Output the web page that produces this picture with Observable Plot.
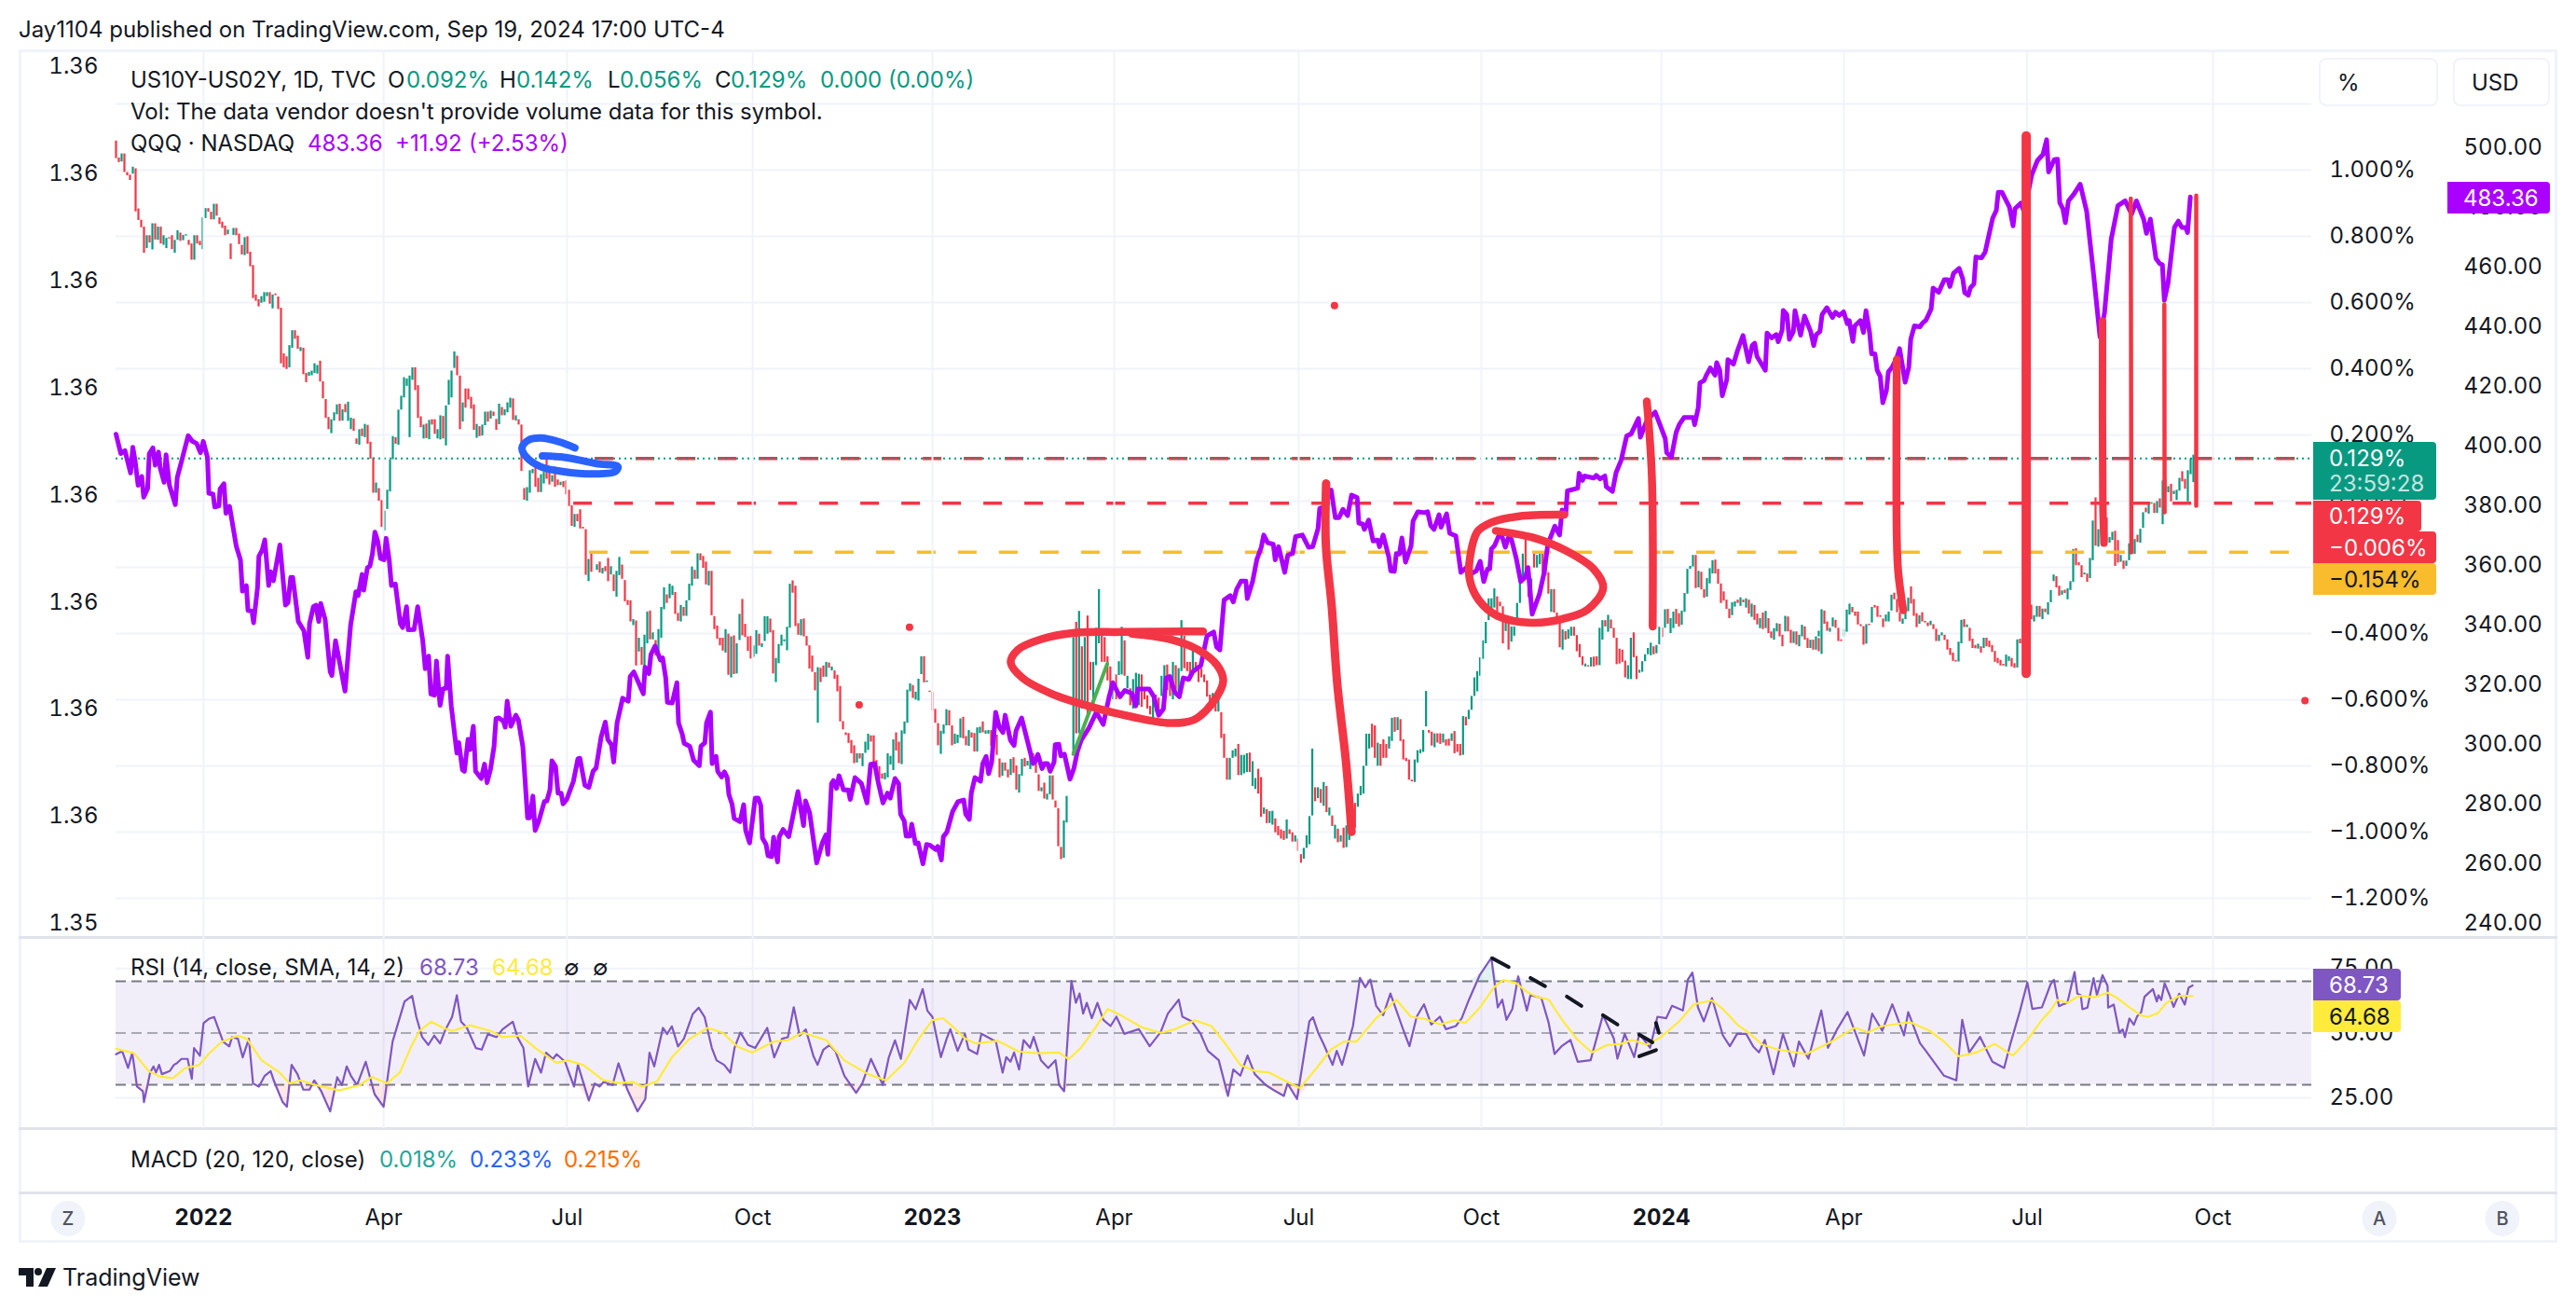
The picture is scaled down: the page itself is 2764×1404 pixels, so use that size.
<!DOCTYPE html>
<html><head><meta charset="utf-8">
<script src="https://cdn.jsdelivr.net/npm/d3@7"></script>
<script src="https://cdn.jsdelivr.net/npm/@observablehq/plot@0.6"></script>
<style>
html,body{margin:0;padding:0;background:#fff}
#page{position:relative;width:2764px;height:1404px;overflow:hidden;font-family:Inter,sans-serif;color:#131722;font-size:24px;background:#fff}
.t{position:absolute;white-space:nowrap;line-height:1;transform:translateY(-50%)}
.box{position:absolute;box-sizing:border-box}
.circ{position:absolute;width:37px;height:38px;border-radius:50%;background:#f0f3fa;color:#50535e;font-size:20px;font-weight:500;display:flex;align-items:center;justify-content:center;transform:translate(-50%,-50%)}
</style></head><body><div id="page"></div>
<script>
// ---------- US10Y-US02Y daily candles: open,close pairs in thousandths of a percent ----------
const spreadA=[1088,1035,1037,1023,1025,1049,1049,993,993,983,985,969,988,1009,1004,874,883,848,849,826,828,749,763,802,802,780,759,838,838,789,788,828,828,777,773,802,763,794,796,792,802,760,749,788,788,817,810,785,787,803,801,805,788,773,777,728,728,802,802,777,785,772,760,856,854,884,884,873,873,850,850,897,897,861,856,836,843,824,831,802,805,819,777,730,803,824,824,802,807,775,773,744,742,796,799,746,752,708,712,612,623,604,609,587,598,618,601,630,618,630,630,595,581,623,626,621,617,579,583,415,445,403,436,398,403,470,462,515,515,489,499,459,452,464,462,382,386,358,377,389,379,393,386,415,384,410,423,360,361,309,307,250,253,216,204,246,242,267,261,291,293,241,242,276,292,267,241,299,216,251,248,211,188,172,169,216,218,195,192,232,229,172,178,127,131,24,24,55,38,0,2,-79,-90,-30,-25,33,28,124,125,195,192,172,169,275,275,317,312,373,347,369,192,378,365,403,403,334,349,250,255,222,188,230,233,189,186,244,246,230,246,202,188,216,185,258,256,188,167,288,290,365,312,393,401,451,438,379,378,216,239,297,339,281,339,306,314,278,291,214,190,232,225,195,197,230,228,269,269,239,248,272,269,256,247,214,231,293,283,258,258,276,267,297,281,311,309,244,242,258,246,230,230,90,38,3,0,41,24,92,83,96,100,42,69,26,26,80,52,87,127,66,87,49,57,77,103,42,64,47,47,57,59,41,61,19,33,-16,-14,-76,-79,-40,-40,-62,-26,-84,-79,-84,-86,-224,-243,-176,-159,-215];
const spreadB=[-209,-192,-184,-217,-220,-203,-198,-213,-173,-243,-223,-198,-223,-273,-290,-212,-225,-170,-193,-236,-240,-304,-300,-315,-301,-365,-376,-358,-362,-498,-456,-414,-442,-496,-515,-405,-431,-335,-332,-419,-419,-398,-421,-468,-468,-388,-414,-321,-328,-262,-283,-309,-295,-251,-285,-257,-276,-342,-339,-363,-365,-315,-321,-348,-348,-301,-301,-251,-257,-199,-209,-236,-236,-159,-159,-180,-167,-203,-184,-253,-256,-212,-212,-346,-349,-388,-377,-417,-414,-437,-414,-453,-459,-388,-402,-526,-534,-410,-407,-524,-522,-431,-421,-342,-297,-407,-372,-412,-410,-454,-409,-477,-472,-437,-463,-391,-402,-438,-442,-431,-424,-349,-402,-349,-356,-398,-391,-522,-548,-475,-491,-433,-438,-405,-425,-419,-452,-381,-384,-251,-241,-278,-257,-379,-370,-405,-407,-358,-356,-410,-409,-438,-437,-507,-468,-517,-518,-573,-671,-503,-505,-548,-498,-532,-532,-487,-489,-505,-513,-501,-513,-538,-526,-576,-560,-667,-666,-691,-700,-708,-702,-732,-723,-763,-739,-793,-791,-763,-763,-779,-802,-763,-762,-728,-753,-704,-709,-728,-709,-791,-784,-816,-802,-840,-824,-840,-842,-822,-836,-763,-797,-771,-814,-721,-700,-755,-728,-793,-796,-694,-704,-667,-671,-571,-576,-552,-557,-596,-601,-577,-604,-538,-524,-470,-470,-549,-548,-543,-574,-578,-578,-634,-629,-671,-672,-739,-765,-695,-704,-676,-679,-630,-633,-679,-679,-739,-735,-704,-732,-707,-716,-658,-653,-718,-711,-739,-741,-693,-700,-716,-702,-758,-758,-685,-702,-683,-667,-700,-704,-694,-704,-693,-693,-741,-721,-693,-707,-768,-779,-836,-831,-791,-791,-816,-812,-836,-829,-780,-775,-822,-800,-873,-882,-826,-831,-780,-777,-803,-800,-786,-811,-772,-763,-788,-768,-822,-827,-877,-878,-866,-852,-900,-903,-885,-887,-830,-830,-903,-906,-927,-929,-1044,-1046,-1083,-1079,-966,-972,-892];
const spreadC=[-768,-412,-366,-703,-703,-333,-440,-628,-628,-412,-347,-656,-487,-572,-628,-487,-497,-384,-431,-267,-408,-487,-412,-487,-470,-543,-501,-572,-600,-543,-525,-600,-527,-485,-525,-381,-422,-529,-567,-529,-567,-618,-628,-539,-590,-520,-618,-523,-525,-623,-567,-600,-588,-628,-620,-646,-660,-600,-586,-637,-595,-646,-590,-529,-600,-497,-495,-572,-529,-590,-600,-487,-497,-581,-576,-506,-515,-361,-408,-506,-487,-515,-487,-543,-525,-445,-487,-515,-497,-548,-506,-534,-525,-548,-543,-592,-586,-632,-628,-581,-586,-637,-637,-581,-639,-717,-704,-777,-777,-843,-843,-777,-777,-754,-773,-749,-735,-829,-829,-768,-824,-768,-820,-763,-761,-820,-862,-787,-871,-838,-810,-885,-835,-955,-946,-927,-932,-974,-974,-938,-979,-937,-960,-1002,-983,-1011,-993,-1021,-997,-1025,-1021,-963,-993,-1007,-1002,-1030,-1030,-1011,-1021,-1058,-1068,-1094,-1082,-1049,-1049,-1011,-1038,-953,-951,-749,-866,-908,-899,-866,-871,-913,-922,-850,-862,-941,-951,-927,-951,-983,-1021,-979,-991,-1032,-1030,-1011,-988,-1049,-1047,-981,-1025,-927,-1007,-907,-913,-988,-925,-885,-890,-862,-885,-801,-801,-704,-749,-704,-674,-745,-679,-777,-801,-731,-735,-801,-721,-777,-735,-777,-749,-712,-726,-656,-654,-698,-693,-654,-660,-726,-721,-782,-777,-787,-782,-843,-843,-848,-850,-782,-791,-754,-763,-751,-759,-693,-682,-575,-693,-701,-698,-740,-745,-703,-703,-731,-703,-735,-731,-704,-721,-740,-719,-740,-726,-703,-696,-763,-735,-759,-735,-770,-768,-651,-653,-679,-660,-632,-632,-590,-590,-534,-576,-515,-529,-473,-478,-422,-431,-366,-361,-295,-347,-295,-323,-265,-289,-342,-305,-319,-319,-431,-394,-356,-366,-450,-426,-380,-408,-380,-361,-309,-309,-230,-235,-160,-113,-230,-197,-291,-291,-235,-155,-202,-202,-164,-192,-155,-155,-216,-178,-225,-216,-281,-336,-267,-267,-338,-338,-356,-361,-443,-450,-389,-394,-420,-417,-389,-408,-381,-381,-408,-406,-455,-433,-473,-470,-497,-501,-492,-497,-501,-501,-473,-471,-501,-470,-497,-497,-384,-420,-361,-361,-380,-396,-345,-359,-386,-384,-414,-414,-494,-447,-492,-450,-487,-483,-534,-539,-497,-539,-414,-398,-473,-469,-539,-520,-511,-517,-485,-485,-464,-464,-445,-467,-429,-440,-464,-461,-436,-434,-381,-384,-412,-384,-328];
const spreadD=[-327,-372,-400,-355,-385,-335,-327,-372,-340,-380,-375,-332,-336,-279,-281,-206,-206,-197,-199,-164,-164,-264,-262,-212,-215,-268,-267,-293,-290,-234,-250,-204,-220,-180,-178,-220,-206,-251,-250,-309,-274,-302,-299,-327,-326,-355,-346,-307,-320,-304,-299,-309,-318,-292,-299,-307,-323,-295,-299,-341,-351,-311,-315,-360,-341,-374,-385,-355,-338,-388,-385,-333,-355,-400,-395,-415,-420,-385,-395,-370,-372,-410,-405,-440,-395,-348,-350,-395,-390,-430,-430,-395,-395,-435,-440,-405,-410,-375,-380,-420,-415,-445,-445,-420,-420,-450,-450,-410,-415,-455];
const spreadE=[-410,-393,-463,-328,-332,-372,-365,-393,-396,-384,-380,-353,-360,-384,-384,-424,-419,-424,-410,-388,-396,-329,-344,-311,-321,-337,-335,-348,-335,-374,-373,-379,-379,-435,-432,-373,-372,-376,-368,-321,-315,-323,-318,-351,-346,-351,-356,-382,-365,-344,-365,-335,-332,-284,-278,-298,-297,-337,-337,-365,-372,-356,-358,-331,-334,-293,-259,-311,-297,-348,-340,-382,-372,-346,-337,-365,-363,-368,-368,-379,-376,-363,-373,-388,-387,-424,-424,-405,-407,-398,-405,-421,-419,-450,-445,-466,-459,-484,-481,-486,-486,-426,-431,-360,-358,-382,-382,-374,-384,-424,-417,-445,-436,-446,-447,-432,-440,-459,-445,-414,-414,-440,-423,-442,-436,-457,-454,-487,-475,-491,-481,-498,-493,-498,-501,-465,-484,-470,-475,-501,-491,-505,-504,-419,-417,-431,-431,-358,-344,-295,-318,-281,-314,-358,-365,-346,-351,-318,-318,-351,-358,-326,-326,-337,-344,-307,-307,-270,-243,-223,-228,-262,-257,-287,-284,-271,-269,-279,-298,-265,-270,-243,-245,-146,-144,-195,-186,-195,-195,-231,-223,-217,-220,-245,-234,-173,-180,-60,10,-136,-139,-86,-89,-23,-51,-131,-51,-126,-127,-110,-119,-94,-91,-197,-119,-187,-185,-164,-181,-206,-197,-181,-180,-129,-133,-157,-161,-116,-103,-125,-127,-85,-82,-35,-21,-35,-39,-9,-9,-5,-7,-37,-37,-1,7,-21,-71,61,66,28,25,44,51,-2,20,30,2,33,30,69,89,58,66,36,-2,92,80,128,56,139];

// ---------- QQQ close: bar,USD pairs ----------
const qqqPath=[0,404,1.7,397.5,3.2,398.5,5.2,391,6,399.6,6.8,395.2,7.9,386.9,9.2,389.8,9.9,382.9,11.3,385.8,11.9,397.5,13.2,399.4,14,393.6,15.2,398,15.8,392.6,17.2,387.9,17.9,397.1,19.1,386.9,21.2,380.4,21.9,389.5,23.2,394.1,25.8,403.5,27.2,401.7,28.8,400.9,30.2,397.8,31.2,401.6,32.7,396.2,33.2,384.2,34.7,383.9,35.3,379.6,36.8,380,37.2,385.6,38.6,387.4,39.3,377.5,40.6,379.8,43,366.5,44.5,361.9,45.2,351.4,46.6,353.2,47.2,344.9,48.6,344.7,49.2,340.8,50.6,352.5,51.1,363.1,52.3,365.2,53.2,368.6,54.6,353.3,55.3,357.9,56.3,354.9,58.6,366.9,60.6,346.7,61.5,347.5,62.5,356,63.2,356,65.2,341.2,67.2,338.1,68.6,329.2,69.2,340.5,70.6,346.2,71.5,346.7,72.5,341.2,73.2,347.3,74.8,341.9,76.6,324.4,77.2,323.1,78.5,334.8,81.9,317.9,83.9,340,85.8,351.2,86.6,349.9,88,357,88.6,351.7,89.9,359.2,90.8,359.8,91.7,363.9,92.6,371.2,93.6,368.1,94.6,362.4,95.9,361.9,96.6,369.1,97.7,361.9,98.5,353.3,99.9,353.8,101.7,340.5,102.5,339.2,103.9,346.2,104.5,338.4,106.6,338.5,107.9,346.2,109.7,334.8,110.6,325.4,111.8,329.6,112.6,316.9,113.9,316.5,114.6,328,115.9,313.1,116.9,318.6,118.1,318.9,118.6,329.6,119.9,312.9,121.9,297.1,122.6,300.6,123.9,291.5,124.6,291,125.9,301.7,126.6,298.3,127.8,306.1,128.6,291,130.6,288.6,131.8,293.4,132.7,287.2,133.9,291.5,135.2,299.3,135.9,308.7,136.9,308.9,138.6,307.7,139.2,305.8,139.9,314.5,141.2,306.1,143,309.8,143.9,308.2,145.5,299.3,147.2,275.4,148,275.4,149.1,282.7,149.9,271.2,151.2,274.3,153.2,280.9,154.1,281.1,155.2,284.8,155.9,294.5,157.2,292.6,158.1,283.7,159.2,283.7,159.9,280.1,161.2,281.6,163.6,287.7,165.2,295.2,165.9,295.4,167.7,286.3,169.1,285.6,170.6,291,171.7,292.1,173.5,302.5,175,307.5,175.9,301.6,177.2,299.9,178,294.1,179.2,307.2,181.2,315.5,183.2,314.5,183.9,322.8,185.2,324.3,188.6,317,189.2,325.9,190.6,323.8,191.3,330.1,192.8,333,194.7,328.3,195.5,329,196.6,322.3,197.2,314.1,198.9,313.9,200.6,320.7,201.2,307.2,202.5,303.5,203.2,300.4,205.2,299.4,206.6,294.7,208.6,292.9,209.2,299.4,210.6,300.6,211.2,307.2,212.6,310.8,213.2,293.6,214.6,296,215.2,291,216.6,289.1,217.6,290.8,218.6,288.9,219.2,283.2,220.3,280.1,221.1,275.2,223.2,274.1,224.5,279.8,225.2,271.2,226.6,267,228.6,282,229.7,282,230.6,279.6,231.2,268.6,232.5,266.5,233.2,262.7,234.5,262.4,235.2,268.9,236.6,260.6,237.2,269.1,238.6,271.5,240.6,269.1,243.9,284.2,245.9,272.8,246.6,281.1,248.1,277,250.6,260.3,252.6,267,253.9,269.7,254.6,263.2,255.9,286.9,256.6,287.9,257.7,285.3,258.6,289.5,260.2,284.8,261.9,284.8,262.6,281.6,264.3,288.9,266.6,286.9,268.6,280.4,269.9,293.4,271.3,293.6,272.6,287.4,274.3,280.4,275.9,283.7,276.9,282,278.6,288.6,279.9,286.9,280.6,276.6,281.9,274.4,282.6,269.3,283.9,269.3,284.6,273.3,285.9,266.8,286.9,267,288.6,260,289.9,266.5,291.2,266.2,293.2,264.8,293.9,265.8,295.2,261.3,295.9,269.1,297.2,270.7,299.2,277.5,301.1,280.8,303.2,281.4,303.9,276.6,305.2,274.9,305.9,283.7,307.2,288.9,309.2,287.7,310,293.6,311.2,296,312.1,290.2,313.2,294.1,314.6,310.8,315.9,305.8,317.2,304,318,309.8,319.9,301.4,321.2,299.7,321.9,304.6,323.9,308.9,328,293.6,328.6,294.1,329.7,296.7,331.2,291.9,332.1,293.6,333.2,293.6,334.1,291,335.5,294.1,335.9,299.9,337.2,300.1,337.9,296.2,339.2,296.8,341.2,288.4,342.6,292,343.9,297.8,345.2,301.4,348,305.6,350.6,310.8,353.1,306.7,355.2,316,356.5,320.7,359.1,316,360.8,318.1,363.3,317.1,364.7,312.9,365.4,318.6,369.5,318.6,371.2,316,372.9,309.8,374.6,311.9,375.6,322.3,376.9,322.8,378.6,317.6,380.3,316,381.7,322.3,383.7,321.8,385.1,324.4,388,326.5,390.2,336.4,392.6,337.7,393.6,332.7,394.8,331.7,396.3,348.4,398.5,349.9,399.6,347.8,400.8,352,402.4,354.8,404.1,354.8,404.6,348.9,406.5,354.6,408,361.9,409.6,366.1,410.5,370.2,411.9,367.6,413.9,367.1,414.6,361.9,415.8,366.3,418,357.7,419.1,363.5,420.8,364,421.9,369.7,424.3,370.2,426.5,366.1,428,366.3,429.9,372.3,430.5,379.1,431.9,379.6,434.6,385.3,436.1,376,437.4,376,438.8,378.8,440.5,376.7,441.9,383.6,443.9,382.7,444.5,374.2,445.8,373.9,446.5,372.1,448,375.2,449.6,368.2,451.2,368.5,451.9,366.3,453.2,370.2,455.2,362.9,455.9,358.2,457.2,358,457.9,364,459,363.8,459.9,369.2,461.2,361.1,463.2,366.6,463.9,374.9,465.6,378,468,377.7,469.1,378,470.2,373.4,471.4,372.1,473.2,377,473.9,372.8,475.9,377.3,477,370.8,479.2,369.9,481,357.7,483,359.3,484.6,357.2,486.5,358.2,487.9,361.4,489.2,354.6,490.5,358.8,491.3,358.8,491.9,365.5,493,366.6,495.2,371.3,496.9,366.1,498,369.4,499.1,368.7,500.8,362.4,502.4,354.6,504.1,356.2,505,359.3,506.5,343.7,509.1,350.4,510.8,357.7,512.1,367.1,514.6,373.2,516.3,370.2,517.2,378.6,518.5,377,519.1,385,522.8,385.9,523.3,390.9,524.5,388.5,525.2,390,528.5,389.3,529.4,390.2,530.8,389,532.5,390,533,386.4,535.2,384.8,536.5,391.1,538.3,395.2,540.3,403.4,541.9,404.1,544.5,409.3,545.2,403,547.6,408.8,550.5,411.4,554.1,402.5,554.6,397.8,556.3,396.3,558,404.6,559.1,407.2,560.8,409.6,564.1,409.6,564.6,407.2,565.9,412.9,566.5,421.2,568,422,568.8,423.8,570.2,426.2,571.9,423.8,572.5,428,573.6,425.4,574.5,416.9,576.1,422.3,576.5,429,578.5,427.5,579.9,431.9,580.4,433.2,581.9,437.1,583.9,428.3,585.2,433.7,586.1,434.5,586.9,430.1,589.9,425.4,590.5,437.9,592.1,436.3,593.8,437.4,594.5,435,595.9,438.9,596.3,445.5,597.6,444.1,598.5,435.8,599.9,438.4,600.5,445.4,602.5,437.2,603.9,443.6,606.1,438.4,607.2,433.7,608.1,437.4,609.4,438.4,610.2,444.1,611.9,446.4,613.9,443.1,615,444.9,616.3,443.8,617.9,445,619.2,441,619.9,442.1,621.2,435.1,621.9,440.3,623.9,442.1,625,438.1,625.9,445.4,627.2,437.9,627.9,430.9,629.1,430.9,629.9,425.4,631,423.3,631.9,414.5,633.2,418.6,633.9,424.9,635.2,426.4,636.9,429.6,637.9,432.7,639.9,421.4,641.2,426.4,641.9,435.8,643.2,440.3,645.2,440,646.1,441.2,647.4,442.3,649.2,446,649.9,453,651.9,451.6,653.9,455.8,655.2,455.8,655.9,453.5,657.2,457.9,659.2,459.6,660.5,456.1,661.2,451.4,662.5,450.6,663.2,453,664.5,454.4,665.2,463.4,667.2,463.1,668.5,465,671.2,476.4,672.5,479,673.2,485.1,674.5,485.1,677.2,480.1,678.5,473.8,679.2,479.6,681.2,481.4,682.5,478.5,685.2,491,687.2,495.7,689.2,497.8,690.5,502.7,691.2,491.9,693.2,496,694.4,496.2,695.2,481.6,696.3,479.6,697.2,474.9,698.3,482.2,700.2,484.4,702.5,487.8,704.8,478.8,707.2,458.4,709.6,436.6,711.2,444.7,713.6,469.4,716,480.6,718.6,482.2,720.9,477.8,722.6,482.2,725.2,476.1,726.2,471.3,727.6,476.1,729.6,462.9,730.9,461.2,731.9,460.8,732.6,448.9,733.9,454.5,736.2,473.3,737.6,475.4,738.9,473.3,740.2,473.3,740.9,471.6,741.9,483.5];

// ---------- RSI and its SMA: bar,value pairs ----------
const rsiPath=[0,41.8,2.2,43,4.3,36.5,5.8,42.4,7.5,29.3,9.6,27.5,10,23.3,12.2,34.7,13.4,37.1,14.3,34.7,15.4,37.7,16.4,34.1,19.2,35.3,20.7,37.7,21.7,38.3,23.4,40,25.6,40,27.1,32.3,27.9,44.2,30,41.2,31.3,53.8,33.4,55.6,35.1,56.2,38.3,46.6,40.5,44.8,41.5,48.4,43.6,47.8,45.3,40.6,47.5,47.8,49,30.5,51.1,29.3,53.2,33.5,55.3,35.3,56.4,31.7,59.6,23.3,61.1,21.5,62.8,37.7,64.9,34.1,67,28.1,69.2,28.1,70.9,31.7,73.4,27.5,76.6,19.7,79.1,32.9,80.8,29.9,82.5,37.1,84,33.5,86.2,29.9,89.3,38.9,92.5,26.3,95.7,21.5,98.9,46.6,103.2,62.2,105.9,64.4,107.4,56.2,109.5,48.4,111.7,45.4,113.8,49,115.9,46,117.6,50.8,120.2,56.2,121.9,64.6,123.4,54.4,125.5,52,128.7,44.2,130.8,43.6,133,49.6,136.1,48.4,138.2,51.4,141.9,54.4,143.6,48.4,145.7,44.2,147.4,29.3,149.9,40,152,34.7,153.8,42.4,156.3,40,157.6,41.8,160.6,38.9,163.8,29.3,165.2,37.7,169.1,23.9,171.2,30.5,172.9,29.3,174.4,31.1,177.6,29.9,179.7,38.3,182.9,28.1,186.5,19.7,189.3,24.5,190.8,42.4,192.5,37.1,195.6,52,197.1,49.6,198.8,52.6,201,44.8,203.1,47.8,206.3,57.4,208.4,59.8,210.5,56.2,213.1,44.2,214.8,39.4,217.5,37.7,219.7,34.7,221.2,44.2,223.3,50.2,226,45.4,228.6,44.2,232.9,52,235.4,40.6,238.2,47.8,240.3,48.4,242.4,60,244.5,49,246.7,51.4,249.4,41.2,250.9,37.7,253,43.6,255.2,45.4,257.3,43,260.5,33.5,264.7,26.9,266.9,30.5,270,40,274.3,29.9,276.4,40.6,278.6,47.2,280.7,40,283.9,62.8,286,59.2,288.5,67,290.2,58.6,292,56.2,295,40.7,297.1,47.9,298.4,51.5,301,43.1,303.6,49.7,304.9,43.7,308,41.9,309.5,49.7,314.7,46.7,317.1,34.7,318.4,40.7,319.9,38.9,321.2,42.5,323,35.9,324.6,47.3,326.9,44.3,328.2,48.5,330.8,39.5,333.4,36.5,336,39.5,337.3,29.9,339.1,27.5,341.7,70.1,343.3,61.7,344.6,65.3,345.9,57.5,347.2,61.7,349,55.7,351,61.7,353.1,55.1,355.7,52.7,357.8,56.3,360.6,49.7,365.8,51.5,369.7,44.9,373.6,50.3,376.2,57.5,380.1,62.9,381.4,56.3,384.8,54.5,387.9,49.7,390.5,43.1,394.4,39.5,397.7,25.7,399.6,35.9,402.1,33.5,404.7,41.3,407.3,34.1,411.2,29.9,413.8,28.1,417.7,25.7,419,30.5,422.4,24.5,426.8,54.5,428.1,56.1,429.9,50.3,432,45.5,435.1,37.7,436.6,43.1,438.5,37.7,442.4,52.7,444.9,71.3,446.8,67.7,448.6,70.7,450.7,60.5,453.2,56.9,455.8,65.3,460.5,50.9,462.6,44.9,465.2,56.3,467.8,61.1,470.4,53.3,473.5,56.3,475.6,51.5,479.2,52.7,481.3,55.7,483.9,62.9,487.8,72.5,491.9,79.1,494.2,59.9,495.8,62.9,497.3,55.1,499.4,59.3,501.5,71.9,504.6,58.7,505.9,64.7,509.8,63.5,512.4,53.9,514.5,41.9,517,44.9,520.2,47.3,522.8,38.9,527.4,39.5,531.8,56.9,535.7,47.9,537,40.1,539.6,49.7,543,40.7,544.8,49.7,548.7,44.3,551.3,56.3,554.4,55.7,556.5,60.5,560.4,58.7,562.2,70.7,563.8,73.4,565.8,59.9,567.9,54.5,570.8,63.5,574.7,49.1,577.2,44.9,579.8,49.7,583,49.7,585.5,44.9,587.6,42.5,589.7,47.3,592.8,34.1,596.2,49.7,600.1,37.1,601.9,46.7,605.3,40.1,609.9,58.7,612.3,44.3,615.6,51.5,619.3,58.1,625.2,41.3,628.1,57.5,631.7,50.9,635.3,61.1,639.5,49.1,641,58.1,645.2,46.1,647.3,43.1,653.8,33.5,658.2,31.7,660.3,55.1,662.8,42.5,666.7,48.5,671.1,38.9,675.3,36.5,677.6,46.1,681,58.7,683.6,69.5,685.4,59.3,688.8,59.9,691.9,68.8,693.1,70.6,694.9,60.4,696.1,61,697.9,61.6,700.5,73.6,701.5,65.2,702.7,64.6,703.3,59.2,705.1,59.8,707.3,71.2,708.5,64.6,710.5,72.4,712.3,68.2,712.5,59.8,714.5,61,716.5,50.2,717.7,51.4,718.5,48.4,720.1,55.6,721.7,53.2,722.9,56.5,724.3,58,725.5,64,728.5,67,729.9,62.2,730.5,64.6,731.5,62.8,732.7,69.2,734.5,64.6,735.9,60.1,737.9,65.2,739.9,61,741.3,67.6,742.7,68.4];
const rsiSmaPath=[0,43.9,6.4,42.2,11.7,35.3,15.6,33.2,20.3,32.6,24.9,36.5,29.8,37.7,33,41.8,37.7,46.6,43.6,49,46.8,47.8,52.1,39.4,58.5,34.7,62.1,30.5,66,31.7,71.3,29.9,79.8,27.8,87.2,29.9,91.5,33.1,96.8,30.5,101.5,34.7,105.3,44.2,108.5,50.8,112.7,54.4,117,52,120.2,50.8,126.6,53,134,50.8,138.2,48.4,144.6,49,150,44.2,157.4,38.5,161.6,39.4,167,37.7,174.4,31.7,179.7,30.7,185,31.1,188.2,29.3,193.5,31.3,198.8,40.6,205.2,47.8,211.6,52,216.9,50.2,222.2,44.8,227.5,42.4,235,46.6,240.3,47.2,245.6,50.2,254.1,47.2,260.5,39.4,269,34.1,275.4,31.7,281.8,38.3,287.1,47.8,292,55,295.8,55.7,299.7,52.1,303.6,47.9,307.5,45.9,315.2,47,323,42.8,329.5,42.2,337.3,42.5,340.7,39.9,345.1,44.3,350.3,52.1,354.7,59.3,359.3,56.9,367.1,52.1,373.6,50.1,378.8,51.5,385.8,54.9,391.8,52.7,397,45.5,402.1,37.7,407.3,35.3,412.5,34.7,419,31.1,423.4,28.7,429.4,36.5,434.6,43.7,439.2,46.7,443.7,46.7,450.1,55.1,457.9,62.9,463.1,56.3,468.3,55.4,473.5,53.3,478.7,54.9,482.6,53.9,487.8,59.9,492.9,67.7,496.1,70.5,500.7,69.3,504.6,65.9,508.5,63.9,512.4,62.9,517.6,54.5,522.8,47.3,527.9,42.5,533.1,45.3,538.3,45.8,542.2,47.3,547.4,45.5,552.6,48.5,559.1,54.5,564.3,61.1,570.8,62.6,574.7,59.3,579.8,53.3,583.7,50.3,588.9,45.5,594.1,43.7,604.5,41.9,613.6,46.7,621.9,52.1,626.5,50.3,631.7,52.7,641.6,54.2,648.6,50.9,653.8,46.7,659,41,665.4,42.5,671.9,45.8,678.4,41.3,683.6,47.3,688.8,55.1,691.9,58.6,694.3,62.8,697.9,61.6,702.1,64.4,707.5,63.8,712.3,65.6,715.9,63.4,719.5,60.4,724.3,56.8,726.7,56.2,730.3,57.7,733.3,61.6,738.1,64.4,742.7,64.4];

// ---------- hand-drawn annotations: bar,USD pairs ----------
const redEllipseSpring=[388.8,337.9,359.9,337.7,342.9,337.4,331,335.3,322.5,331.7,320,327.5,324.2,322.3,334.4,317.1,349.7,312.4,363.3,309.3,376.9,307.2,385.4,308.2,392.2,314,396,321.3,393.9,326.5,387.1,331.7,376.9,335.3,363.3,337.1];
const redEllipseAutumn=[518,377,501.9,376.5,491.9,374.4,486.9,371.3,484.3,362.9,484.1,355.6,487.4,348.4,494.1,343.1,506.3,340.8,517.4,342.1,526.3,345.2,531.9,352.5,528.5,358.8,518.5,365,507.4,369.2,493.5,371.6];
const redStrokeJuly=[432.8,387.5,432.7,367.1,434.8,346.3,436.8,320.2,439.9,294.2,441.9,270.7];
const redStrokeDec=[547.5,415,549.3,390,549.6,339.5];
const redStrokeApr=[636.9,429,636.9,370,637.4,358,639.2,345];
const redStrokeJul24=[683.2,504,683.2,323.8];
const redStrokeAug=[710.5,441.9,710.6,381.6,711,367.5];
const redThinA=[720.6,483,720.8,364.4];
const redThinB=[732.6,447.5,732.7,377.8];
const redThinC=[744,484,744,380];
const blueLoop=[164.1,399.4,158.6,401.4,151.9,402.7,147.5,402,145.2,399.4,146.9,396.2,151.9,393.1,159.7,391.5,171.9,390.7,178.6,391.5,179.5,393.1,171.9,394.1,160.8,396.2,152.5,396.7];
const greenStroke=[342.4,296.8,348.9,312.9,354.5,327];
const redDots=[283.8,339.3,265.8,313.3,435.8,447.1,782.9,314.7];
const blackDashes=[[492.2,78.9,498.1,75.5],[505.9,71.3,511.1,68.1],[518.9,64.1,524.1,60.5],[531.8,56.9,537,53.3],[544.8,49.4,549.5,46.4],[550.8,53.9,551.8,50.1],[544.8,41,550.8,43.4]];

// ---------- axes and levels ----------
const timeBars=[31.3,95.7,161.3,227.7,292,357,423,488.3,552.7,618,683.5,750];
const timeLabels=["2022","Apr","Jul","Oct","2023","Apr","Jul","Oct","2024","Apr","Jul","Oct"];
const pctTicks=[1000,800,600,400,200,0,-200,-400,-600,-800,-1000,-1200];
const pctGrid=[1200,...pctTicks];
const usdTicks=[500,480,460,440,420,400,380,360,340,320,300,280,260,240];
const rsiTicks=[75,50,25];
const rsiBands=[70,50,30];
const leftLabels=["1.36","1.36","1.36","1.36","1.36","1.36","1.36","1.36","1.35"];
const levels=[{v:129,from:156.7,color:"#f23645"},{v:-6,from:163.7,color:"#f23645"},{v:-154,from:169.3,color:"#f9bc2c"}];

const RED="#f23645",TEAL="#089981",PURPLE="#aa00ff",GRID="#f0f3fa";
const W=2764,H=1404,R=2480,L=124,BARS=(R-L)/3;
const pairs=f=>d3.range(f.length/2).map(i=>({bar:f[2*i],v:f[2*i+1]}));
const toCandles=(f,start,step=1)=>d3.range(f.length/2).map(j=>({bar:start+j*step,open:f[2*j],close:f[2*j+1]}));
const candles=[...toCandles(spreadA,0),...toCandles(spreadB,172),
  ...toCandles(spreadC,342.4,211.6/(spreadC.length/2-1)),...toCandles(spreadD,555),...toCandles(spreadE,609)];
const up=candles.filter(c=>c.close>=c.open),down=candles.filter(c=>c.close<c.open);
const page=document.getElementById("page");
const layerStyle={position:"absolute",top:"0",left:"0",background:"transparent",overflow:"visible",fontFamily:"Inter,sans-serif",fontSize:"24px",color:"#131722",maxWidth:"none"};
const base={width:W,height:H,marginLeft:L,marginRight:W-R,marginTop:53,marginBottom:H-1210,style:layerStyle};
const xScale={domain:[0,BARS],range:[L,R],axis:null};
const fmtPct=d=>(d<0?"\u2212":"")+Math.abs(d/1000).toFixed(3)+"%";

// frame
function box(x,y,w,h,css){const d=document.createElement("div");d.className="box";d.style.cssText+=`left:${x}px;top:${y}px;width:${w}px;height:${h}px;${css||""}`;page.appendChild(d);return d}
box(20,53,2724,1280,"border:3px solid "+GRID);
box(20,1004,2724,3,"background:#e0e3eb");
box(20,1209,2724,3,"background:#e0e3eb");
box(20,1278,2724,3,"background:#e0e3eb");

// left scale
page.appendChild(Plot.plot({...base,x:xScale,y:{domain:[0,8],range:[71,990],axis:null},marks:[
  Plot.axisY(d3.range(9),{anchor:"left",tickSize:0,tickPadding:19,label:null,tickFormat:i=>leftLabels[i]})]}));

// spread pane
page.appendChild(Plot.plot({...base,marginBottom:H-1005,x:xScale,y:{domain:[1000,-1000],range:[182,892],axis:null},marks:[
  Plot.gridY(pctGrid,{stroke:GRID,strokeOpacity:1,strokeWidth:2}),
  Plot.ruleX(down,{x:"bar",y1:"open",y2:"close",stroke:RED,strokeWidth:2.2}),
  Plot.ruleX(up,{x:"bar",y1:"open",y2:"close",stroke:TEAL,strokeWidth:2.2}),
  ...levels.map(l=>Plot.ruleY([l.v],{x1:l.from,x2:BARS,stroke:l.color,strokeWidth:3.5,strokeDasharray:"20,24"})),
  Plot.ruleY([129],{x1:0,x2:BARS,stroke:TEAL,strokeWidth:2,strokeDasharray:"2,4"}),
  Plot.axisY(pctTicks,{anchor:"right",tickSize:0,tickPadding:19,label:null,tickFormat:fmtPct})]}));

// RSI pane + vertical grid
page.appendChild(Plot.plot({...base,marginTop:53,marginBottom:H-1210,x:xScale,y:{domain:[70,30],range:[1052,1163],axis:null},marks:[
  Plot.gridX(timeBars,{stroke:GRID,strokeOpacity:1,strokeWidth:2}),
  Plot.rect([0],{x1:0,x2:BARS,y1:70,y2:30,fill:"#7e57c2",fillOpacity:0.1}),
  Plot.gridY([75,25],{stroke:GRID,strokeOpacity:1,strokeWidth:2}),
  ...rsiBands.map(b=>Plot.ruleY([b],{x1:0,x2:BARS,stroke:"#787b86",strokeWidth:2,strokeOpacity:b===50?0.6:1,strokeDasharray:"11,6"})),
  Plot.areaY(pairs(rsiPath),{x:"bar",y1:30,y2:d=>Math.min(d.v,30),fill:RED,fillOpacity:0.12}),
  Plot.areaY(pairs(rsiPath),{x:"bar",y1:70,y2:d=>Math.max(d.v,70),fill:TEAL,fillOpacity:0.12}),
  Plot.line(pairs(rsiPath),{x:"bar",y:"v",stroke:"#7e57c2",strokeWidth:2.2}),
  Plot.line(pairs(rsiSmaPath),{x:"bar",y:"v",stroke:"#ffeb3b",strokeWidth:2.2}),
  ...blackDashes.map(s=>Plot.line(pairs(s),{x:"bar",y:"v",stroke:"#131722",strokeWidth:4})),
  Plot.axisY(rsiTicks,{anchor:"right",tickSize:0,tickPadding:19,label:null,tickFormat:d=>d.toFixed(2)})]}));

// QQQ and drawings
const stroke=(f,color,w)=>Plot.line(pairs(f),{x:"bar",y:"v",stroke:color,strokeWidth:w,curve:"catmull-rom",strokeLinecap:"round",strokeLinejoin:"round"});
page.appendChild(Plot.plot({...base,marginBottom:H-1005,x:xScale,y:{domain:[500,240],range:[158,990],axis:null},marks:[
  Plot.line(pairs(qqqPath),{x:"bar",y:"v",stroke:PURPLE,strokeWidth:5,strokeLinejoin:"round"}),
  stroke(greenStroke,"#4caf50",4),
  stroke(blueLoop,"#2962ff",8),
  stroke(redEllipseSpring,RED,8.5),
  stroke(redEllipseAutumn,RED,8.5),
  stroke(redStrokeJuly,RED,9),
  stroke(redStrokeDec,RED,8.5),
  stroke(redStrokeApr,RED,8.5),
  stroke(redStrokeJul24,RED,10),
  stroke(redStrokeAug,RED,8),
  stroke(redThinA,RED,4.5),
  stroke(redThinB,RED,4.5),
  stroke(redThinC,RED,4.5),
  Plot.dot(pairs(redDots),{x:"bar",y:"v",r:4,fill:RED}),
  Plot.axisY(usdTicks,{anchor:"right",tickSize:0,tickPadding:163,label:null,tickFormat:d=>d.toFixed(2)})]}));

// time scale
const timeAxis=(bars,labels,weight)=>Plot.axisX(bars,{anchor:"bottom",tickSize:0,tickPadding:0,label:null,fontWeight:weight,tickFormat:b=>labels[timeBars.indexOf(b)]});
const years=timeBars.filter((b,i)=>/^\d/.test(timeLabels[i])),months=timeBars.filter((b,i)=>!/^\d/.test(timeLabels[i]));
page.appendChild(Plot.plot({...base,marginTop:53,marginBottom:H-1296,x:xScale,y:{domain:[0,1],axis:null},marks:[
  timeAxis(years,timeLabels,700),timeAxis(months,timeLabels,400)]}));

// texts
function t(s,x,y,color,extra){const d=document.createElement("div");d.className="t";d.textContent=s;d.style.left=x+"px";d.style.top=y+"px";if(color)d.style.color=color;if(extra)d.style.cssText+=extra;page.appendChild(d)}
const G=TEAL;
t("Jay1104 published on TradingView.com, Sep 19, 2024 17:00 UTC-4",20,32);
t("US10Y-US02Y, 1D, TVC",140,86);
[["O",416],["H",536],["L",652],["C",767]].forEach(([a,x])=>t(a,x,86));
[["0.092%",436],["0.142%",554],["0.056%",665],["0.129%",784],["0.000 (0.00%)",880]].forEach(([a,x])=>t(a,x,86,G));
t("Vol: The data vendor doesn't provide volume data for this symbol.",140,120,null,"letter-spacing:-0.05px");
t("QQQ \u00b7 NASDAQ",140,154);
[["483.36",330],["+11.92",424],["(+2.53%)",503]].forEach(([a,x])=>t(a,x,154,PURPLE));
t("RSI (14, close, SMA, 14, 2)",140,1038);
t("68.73",450,1038,"#7e57c2");t("64.68",528,1038,"#ffeb3b");t("\u2205",605,1038);t("\u2205",636,1038);
t("MACD (20, 120, close)",140,1244);
t("0.018%",407,1244,"#26a69a");t("0.233%",504,1244,"#2962ff");t("0.215%",605,1244,"#ff6d00");

// price tags
function tag(x,y,w,h,bg,fg,html){const d=box(x,y,w,h,`background:${bg};color:${fg};border-radius:0 4px 4px 0;padding-left:17px;font-size:24px;display:flex;flex-direction:column;justify-content:center;line-height:27px`);d.innerHTML=html}
tag(2482,474,132,62,TEAL,"#fff",'<div>0.129%</div><div style="opacity:.75">23:59:28</div>');
tag(2482,537,116,33,RED,"#fff","0.129%");
tag(2482,570,132,34,RED,"#fff","\u22120.006%");
tag(2482,604,132,34,"#f9bc2c","#131722","\u22120.154%");
tag(2626,195,110,34,PURPLE,"#fff","483.36");
tag(2482,1039,94,34,"#7e57c2","#fff","68.73");
tag(2482,1073,94,34,"#ffeb3b","#131722","64.68");
// unit buttons
const bt=(x,w,s,pl)=>{const d=box(x,62,w,52,`border:2px solid ${GRID};border-radius:8px;background:#fff;display:flex;align-items:center;padding-left:${pl}px`);d.textContent=s};
bt(2488,128,"%",18);bt(2632,104,"USD",18);
// circles
[["Z",73],["A",2553],["B",2685]].forEach(([s,x])=>{const d=document.createElement("div");d.className="circ";d.textContent=s;d.style.left=x+"px";d.style.top="1307px";page.appendChild(d)});
// footer
const logo=document.createElement("div");logo.style.cssText="position:absolute;left:20px;top:1358px";
logo.innerHTML='<svg width="40" height="21" viewBox="0 0 40 21"><path fill="#131722" d="M0 0h16v20h-8V8H0z"/><circle cx="21" cy="4" r="4" fill="#131722"/><path fill="#131722" d="M30 0h10l-9 20H21z"/></svg>';
page.appendChild(logo);
t("TradingView",67,1370,"#131722","font-size:25px;font-weight:400");
</script></body></html>
